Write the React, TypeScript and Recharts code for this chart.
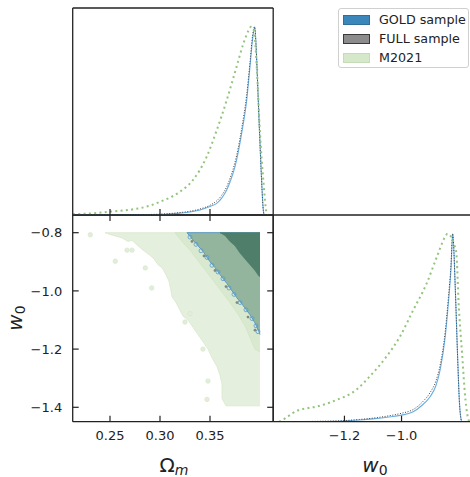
import React from 'react';
import { LineChart, Line, XAxis, YAxis, ComposedChart, Area, ScatterChart, Scatter } from 'recharts';

// axis ranges and ticks
const OM_DOMAIN: [number, number] = [0.2127, 0.4132];
const W0_DOMAIN: [number, number] = [-1.4495, -0.7392];
const PDF_DOMAIN: [number, number] = [0, 1.1];
const OM_TICKS = [0.25, 0.3, 0.35];
const W0_TICKS = [-1.4, -1.2, -1.0, -0.8];
const W0_X_TICKS = [-1.2, -1.0];

// 1D marginal of Omega_m: [Omega_m, normalised density]
const omGold = [
  [0.213, 0], [0.28, 0.001], [0.305, 0.004], [0.32, 0.01], [0.33, 0.016], [0.34, 0.027], [0.35, 0.045],
  [0.3567, 0.062], [0.3617, 0.09], [0.3667, 0.133], [0.371, 0.19], [0.375, 0.257], [0.3817, 0.435],
  [0.3867, 0.61], [0.39, 0.79], [0.3925, 0.93], [0.3948, 1.0], [0.3965, 0.85], [0.3983, 0.61],
  [0.401, 0.257], [0.4033, 0.027], [0.404, 0],
];
const omFull = [
  [0.213, 0], [0.28, 0.002], [0.305, 0.006], [0.32, 0.013], [0.33, 0.02], [0.34, 0.032], [0.35, 0.052],
  [0.3567, 0.075], [0.3617, 0.105], [0.3667, 0.15], [0.371, 0.21], [0.375, 0.28], [0.3817, 0.46],
  [0.3867, 0.64], [0.39, 0.81], [0.3925, 0.95], [0.3945, 1.0], [0.3965, 0.85], [0.3983, 0.6],
  [0.401, 0.25], [0.4033, 0.025], [0.404, 0],
];
const omM2021 = [
  [0.213, 0.004], [0.23, 0.008], [0.25, 0.018], [0.273, 0.03], [0.29, 0.05], [0.3, 0.07], [0.32, 0.124],
  [0.333, 0.186], [0.3467, 0.31], [0.3567, 0.45], [0.3667, 0.61], [0.3767, 0.79], [0.3833, 0.91],
  [0.3885, 0.98], [0.391, 1.0], [0.394, 0.98], [0.3967, 0.79], [0.4, 0.435], [0.4033, 0.186],
  [0.4067, 0.01], [0.408, 0],
];

// 1D marginal of w0
const w0Gold = [
  [-1.45, 0], [-1.3, 0.001], [-1.2, 0.004], [-1.147, 0.009], [-1.1, 0.015], [-1.05, 0.024], [-1.0, 0.035],
  [-0.959, 0.053], [-0.93, 0.085], [-0.9, 0.133], [-0.88, 0.19], [-0.865, 0.275], [-0.847, 0.452],
  [-0.836, 0.63], [-0.827, 0.807], [-0.8205, 1.0], [-0.812, 0.72], [-0.804, 0.364], [-0.797, 0.098],
  [-0.791, 0.009], [-0.789, 0],
];
const w0Full = [
  [-1.45, 0], [-1.3, 0.002], [-1.2, 0.006], [-1.147, 0.012], [-1.1, 0.019], [-1.05, 0.03], [-1.0, 0.045],
  [-0.959, 0.065], [-0.93, 0.1], [-0.9, 0.155], [-0.88, 0.215], [-0.865, 0.3], [-0.847, 0.48],
  [-0.836, 0.66], [-0.827, 0.83], [-0.821, 1.0], [-0.812, 0.72], [-0.804, 0.36], [-0.797, 0.095],
  [-0.791, 0.008], [-0.789, 0],
];
const w0M2021 = [
  [-1.429, 0], [-1.405, 0.02], [-1.383, 0.044], [-1.359, 0.062], [-1.33, 0.072], [-1.3, 0.08],
  [-1.229, 0.115], [-1.159, 0.169], [-1.112, 0.24], [-1.053, 0.346], [-1.006, 0.452], [-0.959, 0.594],
  [-0.912, 0.736], [-0.876, 0.878], [-0.847, 0.985], [-0.839, 1.0], [-0.825, 0.98], [-0.815, 0.94],
  [-0.808, 0.896], [-0.8, 0.63], [-0.788, 0.364], [-0.776, 0.115], [-0.765, 0.009], [-0.76, 0],
];

// 2D credible regions: lower w0 edge per Omega_m, upper edge is the prior bound
const W0_TOP = -0.8;
const m2021Outer = [
  [0.245, -0.8], [0.25, -0.806], [0.256, -0.812], [0.262, -0.818], [0.268, -0.83], [0.272, -0.826],
  [0.278, -0.845], [0.283, -0.86], [0.289, -0.875], [0.294, -0.89], [0.298, -0.91], [0.302, -0.92],
  [0.306, -0.945], [0.309, -0.967], [0.311, -1.0], [0.312, -1.02], [0.316, -1.04], [0.319, -1.06],
  [0.323, -1.087], [0.328, -1.1], [0.333, -1.125], [0.337, -1.145], [0.342, -1.17], [0.348, -1.2],
  [0.352, -1.23], [0.357, -1.26], [0.36, -1.29], [0.362, -1.32], [0.362, -1.37], [0.366, -1.395],
  [0.4, -1.395],
];
const m2021Inner = [
  [0.315, -0.8], [0.322, -0.83], [0.33, -0.86], [0.34, -0.905], [0.35, -0.95], [0.36, -0.995],
  [0.37, -1.04], [0.378, -1.08], [0.385, -1.12], [0.39, -1.16], [0.395, -1.2], [0.4, -1.21],
];
const gold2s = [
  [0.327, -0.8], [0.333, -0.825], [0.338, -0.845], [0.343, -0.864], [0.35, -0.9], [0.355, -0.92],
  [0.36, -0.944], [0.367, -0.975], [0.372, -1.0], [0.377, -1.024], [0.383, -1.05], [0.39, -1.082],
  [0.395, -1.11], [0.399, -1.14], [0.4, -1.15],
];
const gold1s = [
  [0.36, -0.8], [0.365, -0.81], [0.37, -0.83], [0.375, -0.845], [0.38, -0.87], [0.385, -0.89],
  [0.39, -0.91], [0.395, -0.93], [0.399, -0.95], [0.4, -0.95],
];
const m2021Islands = [
  [0.2303, -0.807], [0.2553, -0.898], [0.267, -0.86], [0.272, -0.86], [0.2853, -0.921], [0.2917, -0.99],
  [0.33, -1.078], [0.325, -1.107], [0.343, -1.2], [0.348, -1.31], [0.347, -1.373],
];
const goldEdgeRings = [
  [0.33, -0.815], [0.336, -0.84], [0.341, -0.862], [0.347, -0.885], [0.352, -0.912], [0.358, -0.935],
  [0.363, -0.958], [0.369, -0.99], [0.374, -1.012], [0.38, -1.04], [0.386, -1.065], [0.392, -1.095],
  [0.396, -1.12], [0.398, -1.14],
];
const fullEdgeDots = [
  [0.332, -0.83], [0.344, -0.88], [0.355, -0.93], [0.366, -0.985], [0.377, -1.04], [0.388, -1.09],
  [0.395, -1.135],
];

const INK = '#222';
const FONT = 'DejaVu Sans, sans-serif';
const AX = { stroke: INK, strokeWidth: 1.3 };
const THIN = 0.001; // axes need a non-zero box to be drawn
const CW = 476;
const CH = 477;
const TL_MARGIN = { top: 8, left: 72.7, right: 202.8, bottom: 262 };
const BL_MARGIN = { top: 215, left: 72.7, right: 202.8, bottom: 55.3 };
const BR_MARGIN = { top: 215, left: 273.2, right: 0, bottom: 55.3 };
const abs: React.CSSProperties = { position: 'absolute', left: 0, top: 0 };

function mergeSeries(series: Record<string, number[][]>) {
  const rows = new Map<number, any>();
  for (const [key, pts] of Object.entries(series)) {
    for (const [x, y] of pts) {
      const row = rows.get(x) ?? { x };
      row[key] = y;
      rows.set(x, row);
    }
  }
  return [...rows.values()].sort((a, b) => a.x - b.x);
}

const bandRows = (pts: number[][]) => pts.map(([om, lo]) => ({ om, band: [lo, W0_TOP] }));
const pointRows = (pts: number[][]) => pts.map(([om, w]) => ({ om, w }));

const fmt = (v: number, d: number) => v.toFixed(d).replace('-', '\u2212');

function InTick(props: any) {
  const { x, y, payload, side, label, digits } = props;
  const len = 6;
  let x2 = x;
  let y2 = y;
  if (side === 'bottom') y2 = y - len;
  if (side === 'top') y2 = y + len;
  if (side === 'left') x2 = x + len;
  if (side === 'right') x2 = x - len;
  const txt = fmt(payload.value, digits);
  return (
    <g>
      <line x1={x} y1={y} x2={x2} y2={y2} stroke={INK} strokeWidth={1.2} />
      {label && side === 'bottom' && (
        <text x={x} y={y + 18} textAnchor="middle" fontSize={13} fontFamily={FONT} fill={INK}>{txt}</text>
      )}
      {label && side === 'left' && (
        <text x={x - 10.5} y={y + 4.7} textAnchor="end" fontSize={13} fontFamily={FONT} fill={INK}>{txt}</text>
      )}
    </g>
  );
}

const tickFn = (side: string, label: boolean, digits: number) => (p: any) => (
  <InTick {...p} side={side} label={label} digits={digits} />
);

function marginalLines() {
  return [
    <Line key="g" xAxisId="b" yAxisId="l" dataKey="gold" type="monotone" stroke="#6aaee0" strokeWidth={1.1}
      dot={false} connectNulls isAnimationActive={false} />,
    <Line key="f" xAxisId="b" yAxisId="l" dataKey="full" type="monotone" stroke="#444" strokeWidth={1}
      strokeDasharray="1 1.6" dot={false} connectNulls isAnimationActive={false} />,
    <Line key="m" xAxisId="b" yAxisId="l" dataKey="m2021" type="monotone" stroke="#93c47d" strokeWidth={2}
      strokeDasharray="2 3.3" dot={false} connectNulls isAnimationActive={false} />,
  ];
}

function TopLeft() {
  const rows = mergeSeries({ gold: omGold, full: omFull, m2021: omM2021 });
  return (
    <div style={abs}>
      <LineChart width={CW} height={CH} data={rows} margin={TL_MARGIN}>
        <XAxis xAxisId="b" type="number" dataKey="x" domain={OM_DOMAIN} allowDataOverflow ticks={OM_TICKS}
          interval={0} height={THIN} tickSize={0} tickMargin={0} tickLine={false} axisLine={AX}
          tick={tickFn('bottom', false, 2)} />
        <XAxis xAxisId="t" orientation="top" type="number" dataKey="x" domain={OM_DOMAIN} allowDataOverflow
          height={THIN} tick={false} tickLine={false} axisLine={AX} />
        <YAxis yAxisId="l" type="number" domain={PDF_DOMAIN} allowDataOverflow width={THIN} tick={false}
          tickLine={false} axisLine={AX} />
        <YAxis yAxisId="r" orientation="right" type="number" domain={PDF_DOMAIN} allowDataOverflow width={THIN}
          tick={false} tickLine={false} axisLine={AX} />
        {marginalLines()}
      </LineChart>
    </div>
  );
}

function BottomRight() {
  const rows = mergeSeries({ gold: w0Gold, full: w0Full, m2021: w0M2021 });
  return (
    <div style={abs}>
      <LineChart width={CW} height={CH} data={rows} margin={BR_MARGIN}>
        <XAxis xAxisId="b" type="number" dataKey="x" domain={W0_DOMAIN} allowDataOverflow ticks={W0_X_TICKS}
          interval={0} height={THIN} tickSize={0} tickMargin={0} tickLine={false} axisLine={AX}
          tick={tickFn('bottom', true, 1)} />
        <XAxis xAxisId="t" orientation="top" type="number" dataKey="x" domain={W0_DOMAIN} allowDataOverflow
          height={THIN} tick={false} tickLine={false} axisLine={AX} />
        <YAxis yAxisId="l" type="number" domain={PDF_DOMAIN} allowDataOverflow width={THIN} tick={false}
          tickLine={false} axisLine={AX} />
        {marginalLines()}
      </LineChart>
    </div>
  );
}

function ContourLayer({ pts, fill, stroke, strokeWidth }: any) {
  return (
    <div style={abs}>
      <ComposedChart width={CW} height={CH} data={bandRows(pts)} margin={BL_MARGIN}>
        <XAxis type="number" dataKey="om" domain={OM_DOMAIN} allowDataOverflow hide />
        <YAxis type="number" domain={W0_DOMAIN} allowDataOverflow hide />
        <Area dataKey="band" type="linear" fill={fill} fillOpacity={1} stroke={stroke}
          strokeWidth={strokeWidth} isAnimationActive={false} />
      </ComposedChart>
    </div>
  );
}

function DotLayer({ pts, r, fill, stroke }: any) {
  return (
    <div style={abs}>
      <ScatterChart width={CW} height={CH} margin={BL_MARGIN}>
        <XAxis type="number" dataKey="om" domain={OM_DOMAIN} allowDataOverflow hide />
        <YAxis type="number" dataKey="w" domain={W0_DOMAIN} allowDataOverflow hide />
        <Scatter data={pointRows(pts)} isAnimationActive={false}
          shape={(p: any) => <circle cx={p.cx} cy={p.cy} r={r} fill={fill} stroke={stroke} strokeWidth={0.8} />} />
      </ScatterChart>
    </div>
  );
}

function Frame2D() {
  return (
    <div style={abs}>
      <ComposedChart width={CW} height={CH} data={bandRows(gold1s)} margin={BL_MARGIN}>
        <XAxis xAxisId="b" type="number" dataKey="om" domain={OM_DOMAIN} allowDataOverflow ticks={OM_TICKS}
          interval={0} height={THIN} tickSize={0} tickMargin={0} tickLine={false} axisLine={AX}
          tick={tickFn('bottom', true, 2)} />
        <XAxis xAxisId="t" orientation="top" type="number" dataKey="om" domain={OM_DOMAIN} allowDataOverflow
          ticks={OM_TICKS} interval={0} height={THIN} tickSize={0} tickMargin={0} tickLine={false} axisLine={AX}
          tick={tickFn('top', false, 2)} />
        <YAxis yAxisId="l" type="number" domain={W0_DOMAIN} allowDataOverflow ticks={W0_TICKS} interval={0}
          width={THIN} tickSize={0} tickMargin={0} tickLine={false} axisLine={AX} tick={tickFn('left', true, 1)} />
        <YAxis yAxisId="r" orientation="right" type="number" domain={W0_DOMAIN} allowDataOverflow
          ticks={W0_TICKS} interval={0} width={THIN} tickSize={0} tickMargin={0} tickLine={false} axisLine={AX}
          tick={tickFn('right', false, 1)} />
        <Area xAxisId="b" yAxisId="l" dataKey="band" type="linear" fill="#4f7e6b" fillOpacity={1}
          stroke="#4a7a68" strokeWidth={0.6} isAnimationActive={false} />
      </ComposedChart>
    </div>
  );
}

const legendItems = [
  { label: 'GOLD sample', fill: '#3b87bc', edge: '#2f6f9c' },
  { label: 'FULL sample', fill: '#8c8c8c', edge: '#3a3a3a' },
  { label: 'M2021', fill: '#d5e8ca', edge: '#c6dcb8' },
];

function LegendBox() {
  return (
    <div style={{
      position: 'absolute', left: 338, top: 8, width: 131, height: 60, border: '1px solid #d0d0d0',
      borderRadius: 3, background: '#fff', boxSizing: 'border-box', fontFamily: FONT, fontSize: 12.7, color: INK,
    }}>
      {legendItems.map((it, i) => (
        <div key={it.label} style={{ position: 'absolute', left: 4, top: 5 + i * 18.9, height: 12, display: 'flex', alignItems: 'center' }}>
          <span style={{ display: 'inline-block', width: 27, height: 10, background: it.fill, border: `1px solid ${it.edge}`, boxSizing: 'border-box' }} />
          <span style={{ marginLeft: 9, whiteSpace: 'nowrap', lineHeight: '12px' }}>{it.label}</span>
        </div>
      ))}
    </div>
  );
}

function AxisLabels() {
  return (
    <svg width={470} height={477} style={{ ...abs, pointerEvents: 'none' }}>
      <text x={174} y={471.5} textAnchor="middle" fontSize={20} fontFamily={FONT} fill={INK}>
        Ω<tspan fontStyle="italic" fontSize={14} dy={3.5}>m</tspan>
      </text>
      <text x={375} y={471.5} textAnchor="middle" fontSize={20} fontFamily={FONT} fill={INK}>
        <tspan fontStyle="italic">w</tspan><tspan fontSize={14} dy={3.5}>0</tspan>
      </text>
      <text x={21.5} y={318} transform="rotate(-90 21.5 318)" textAnchor="middle" fontSize={20} fontFamily={FONT} fill={INK}>
        <tspan fontStyle="italic">w</tspan><tspan fontSize={14} dy={3.5}>0</tspan>
      </text>
    </svg>
  );
}

export default function App() {
  return (
    <div style={{ position: 'fixed', left: 0, top: 0, width: 470, height: 477, overflow: 'hidden', background: '#fff' }}>
      <ContourLayer pts={m2021Outer} fill="#e4efdd" stroke="#d8e8cd" strokeWidth={0.8} />
      <DotLayer pts={m2021Islands} r={2.2} fill="#e2eeda" stroke="#d8e8cd" />
      <ContourLayer pts={m2021Inner} fill="#d9e9cf" stroke="#d0e3c4" strokeWidth={0.8} />
      <ContourLayer pts={gold2s} fill="#93b59e" stroke="#5a9bc9" strokeWidth={1} />
      <DotLayer pts={goldEdgeRings} r={2} fill="none" stroke="#5b9bc8" />
      <DotLayer pts={fullEdgeDots} r={1.4} fill="#7d8a7e" stroke="none" />
      <Frame2D />
      <TopLeft />
      <BottomRight />
      <LegendBox />
      <AxisLabels />
    </div>
  );
}
